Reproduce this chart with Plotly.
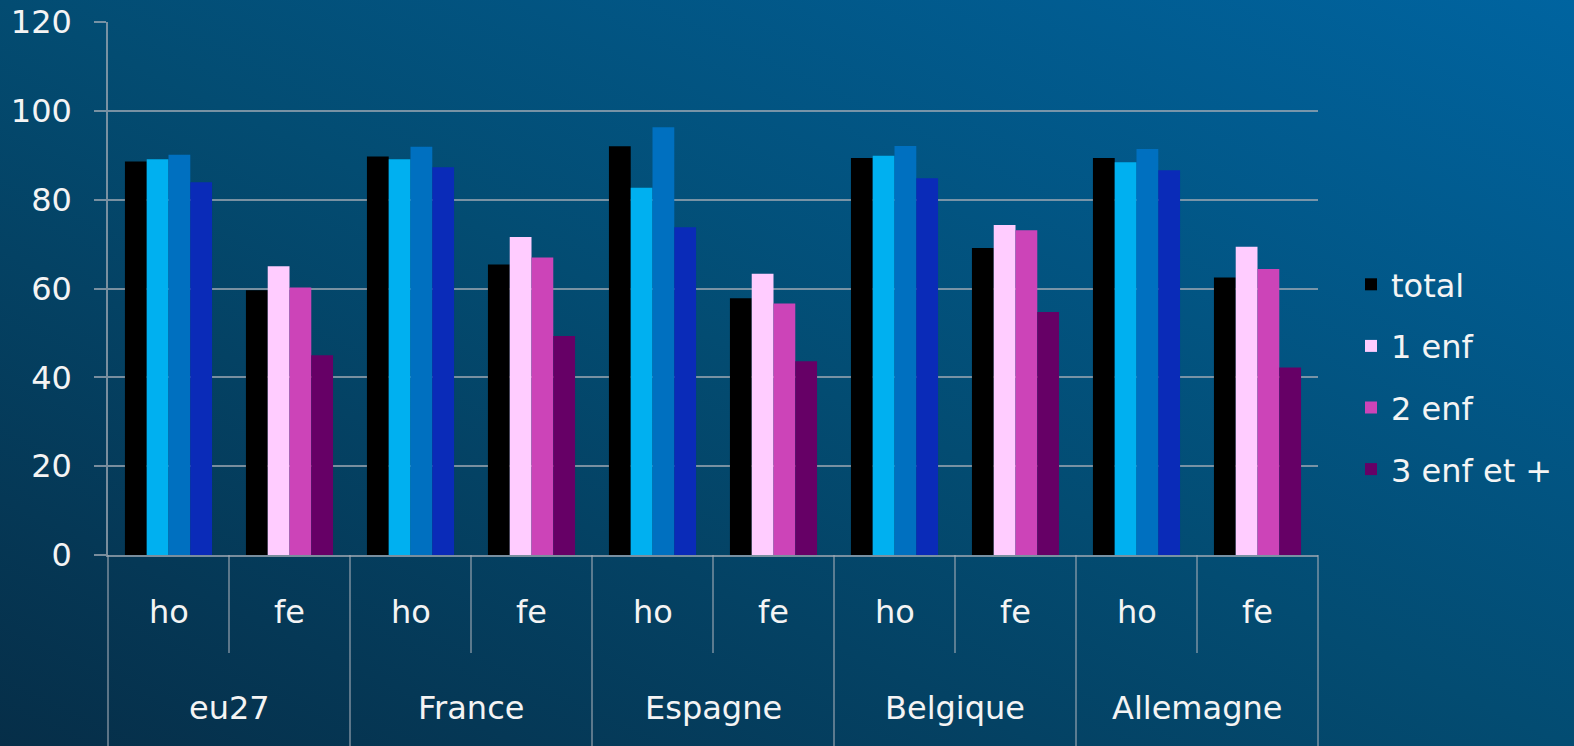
import base64
import plotly.graph_objects as go

# ---------------- data ----------------
countries = ["eu27", "France", "Espagne", "Belgique", "Allemagne"]
sexes = ["ho", "fe"]
series_names = ["total", "1 enf", "2 enf", "3 enf et +"]

# values per country: [ho, fe]
total = [[88.6, 59.6], [89.7, 65.4], [92.0, 57.8], [89.4, 69.1], [89.4, 62.5]]
enf1 = [[89.1, 65.0], [89.1, 71.6], [82.7, 63.3], [89.9, 74.3], [88.4, 69.4]]
enf2 = [[90.1, 60.2], [91.9, 67.0], [96.3, 56.6], [92.1, 73.1], [91.4, 64.4]]
enf3 = [[83.9, 45.0], [87.3, 49.3], [73.8, 43.6], [84.8, 54.7], [86.6, 42.2]]

y_ticks = [0, 20, 40, 60, 80, 100, 120]

# ---------------- styles ----------------
FONT = "DejaVu Sans, Verdana, sans-serif"
TXT = "#f4f4f4"
GRID = "rgba(160,170,180,0.75)"
col_total = "#000000"
col_ho = ["#00b0f0", "#0070c0", "#0a2bb8"]
col_fe = ["#ffccff", "#cc44b8", "#660066"]

outer = [c for c in countries for _ in sexes]
inner = [s for _ in countries for s in sexes]

fig = go.Figure()
fig.add_trace(go.Bar(
    x=[outer, inner], y=[v for pair in total for v in pair],
    name=series_names[0], marker=dict(color=col_total, line=dict(width=0)),
    offsetgroup="0", legendgroup="0",
))
for k, vals in enumerate([enf1, enf2, enf3]):
    fig.add_trace(go.Bar(
        x=[countries, ["ho"] * len(countries)], y=[p[0] for p in vals],
        name=series_names[k + 1], marker=dict(color=col_ho[k], line=dict(width=0)),
        offsetgroup=str(k + 1), legendgroup=str(k + 1), showlegend=False,
    ))
    fig.add_trace(go.Bar(
        x=[countries, ["fe"] * len(countries)], y=[p[1] for p in vals],
        name=series_names[k + 1], marker=dict(color=col_fe[k], line=dict(width=0)),
        offsetgroup=str(k + 1), legendgroup=str(k + 1), showlegend=True,
    ))

W, H = 1574, 746
ml, mr, mt, mb = 108, 256, 22, 191
pw, ph = W - ml - mr, H - mt - mb
n = len(outer)

# background gradient as inline SVG
svg = (
    '<svg xmlns="http://www.w3.org/2000/svg" width="1574" height="746">'
    '<defs><linearGradient id="g" x1="0" y1="1" x2="1" y2="0">'
    '<stop offset="0" stop-color="#062e48"/>'
    '<stop offset="0.5" stop-color="#034c72"/>'
    '<stop offset="1" stop-color="#0064a0"/>'
    '</linearGradient></defs>'
    '<rect width="1574" height="746" fill="url(#g)"/></svg>'
)
src = "data:image/svg+xml;base64," + base64.b64encode(svg.encode()).decode()

shapes = []
# outer dividers
for i in range(len(countries) + 1):
    xp = (i * len(sexes)) / n
    shapes.append(dict(type="line", xref="paper", yref="paper", x0=xp, x1=xp,
                       y0=0, y1=-mb / ph, line=dict(color=GRID, width=1.5)))
# inner dividers
for i in range(len(countries)):
    xp = (i * len(sexes) + 1) / n
    shapes.append(dict(type="line", xref="paper", yref="paper", x0=xp, x1=xp,
                       y0=0, y1=-(653 - 555) / ph, line=dict(color=GRID, width=1.5)))

annotations = []
for j, lab in enumerate(inner):
    annotations.append(dict(text=lab, xref="paper", yref="paper", x=(j + 0.5) / n,
                            y=-(612 - 555) / ph, showarrow=False, yanchor="middle",
                            xanchor="center",
                            font=dict(family=FONT, size=32, color=TXT)))
for i, c in enumerate(countries):
    annotations.append(dict(text=c, xref="paper", yref="paper",
                            x=(i * len(sexes) + len(sexes) / 2) / n,
                            y=-(708 - 555) / ph, showarrow=False, yanchor="middle",
                            xanchor="center",
                            font=dict(family=FONT, size=32, color=TXT)))

fig.update_layout(
    width=W, height=H,
    margin=dict(l=ml, r=mr, t=mt, b=mb, pad=0, autoexpand=False),
    paper_bgcolor="#034c72", plot_bgcolor="rgba(0,0,0,0)",
    barmode="group", bargap=0.28, bargroupgap=0,
    font=dict(family=FONT, size=32, color=TXT),
    images=[dict(source=src, xref="paper", yref="paper", x=-ml / pw, y=1 + mt / ph,
                 sizex=W / pw, sizey=H / ph, sizing="stretch", layer="below",
                 xanchor="left", yanchor="top")],
    shapes=shapes, annotations=annotations,
    legend=dict(x=(1351 - ml) / pw, xanchor="left", y=1 - (377 - mt) / ph, yanchor="middle",
                font=dict(family=FONT, size=32, color=TXT), tracegroupgap=17,
                bgcolor="rgba(0,0,0,0)"),
    showlegend=True,
)
fig.update_xaxes(type="multicategory", showticklabels=False, showdividers=False,
                 showgrid=False, showline=True, linecolor=GRID, linewidth=1.5,
                 range=[-0.5, n - 0.5], zeroline=False, automargin=False)
fig.update_yaxes(range=[0, 120], tickvals=y_ticks, ticks="outside", ticklen=12,
                 tickcolor=GRID, tickwidth=1.5, showgrid=True, gridcolor=GRID, gridwidth=1.5,
                 showline=True, linecolor=GRID, linewidth=1.5, zeroline=False, automargin=False,
                 tickfont=dict(family=FONT, size=32, color=TXT), ticklabelstandoff=16)

fig.write_html("out.html", config={"displayModeBar": False},
               post_script="document.body.style.margin='0';document.body.style.overflow='hidden';")
